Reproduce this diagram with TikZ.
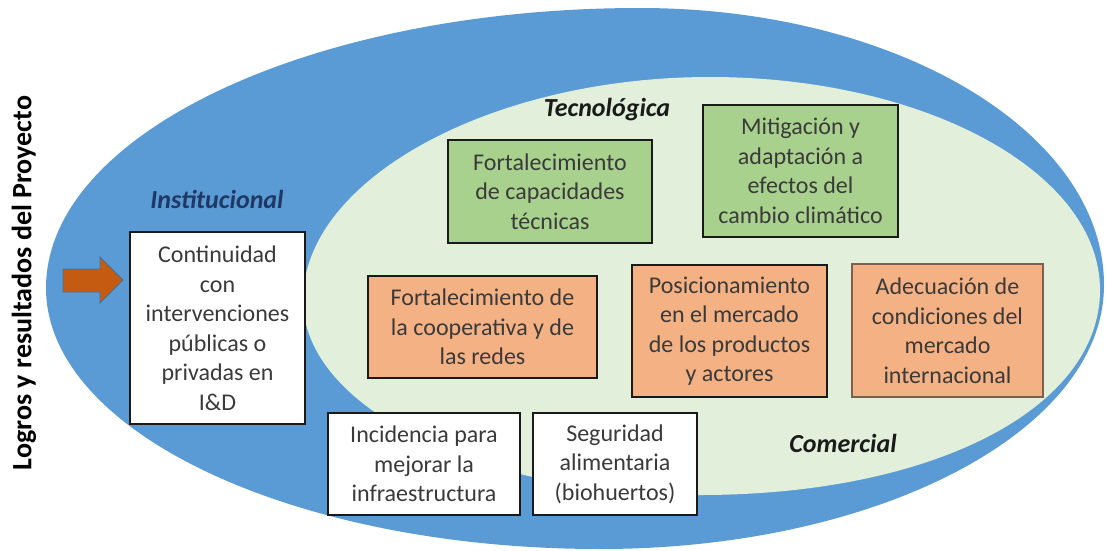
\documentclass[tikz,border=0pt]{standalone}
\usepackage{fontspec}
\setmainfont{Carlito}
\definecolor{outerblue}{HTML}{5B9BD5}
\definecolor{innergreen}{HTML}{E2EFDA}
\definecolor{boxgreen}{HTML}{A9D18E}
\definecolor{boxorange}{HTML}{F4B183}
\definecolor{arroworange}{HTML}{C55A11}
\definecolor{arrowline}{HTML}{41719C}
\definecolor{txtgrey}{HTML}{3A3A3A}
\definecolor{navy}{HTML}{1F3864}
\definecolor{darkline}{HTML}{1A1A1A}
\definecolor{brownline}{HTML}{7F6050}
\begin{document}
\begin{tikzpicture}[x=1pt,y=-1pt,
  basebox/.style={rectangle, inner sep=0pt, align=center, text=txtgrey,
    font=\fontsize{24}{29.5}\selectfont},
  gbox/.style={basebox, fill=boxgreen, draw=darkline, line width=2.6pt},
  obox/.style={basebox, fill=boxorange, draw=darkline, line width=2.6pt},
  othin/.style={basebox, fill=boxorange, draw=brownline, line width=1.3pt},
  wbox/.style={basebox, fill=white, draw=darkline, line width=2.6pt},
  heading/.style={font=\fontsize{26}{30}\selectfont\bfseries\itshape}]
\useasboundingbox (0,0) rectangle (1106,550);
% outer blue shape (four quarter-ellipse arcs)
\fill[outerblue] (46,288)
  .. controls (46,133.4) and (312,8) .. (640,8)
  .. controls (896.3,8) and (1104,132) .. (1104,285)
  .. controls (1104,430.8) and (878.4,549) .. (600,549)
  .. controls (294,549) and (46,432.1) .. (46,288) -- cycle;
% inner light green shape
\fill[innergreen] (303,300)
  .. controls (303,180) and (490,77) .. (710,77)
  .. controls (925,77) and (1100,172) .. (1100,290)
  .. controls (1100,409) and (932,495) .. (700,495)
  .. controls (480,495) and (303,408) .. (303,300) -- cycle;
% vertical title
\node[rotate=90, font=\fontsize{28}{30}\selectfont\bfseries] (title) at (24,283)
  {Logros y resultados del Proyecto};
% arrow
\fill[arroworange, draw=arrowline, line width=0.8pt]
  (63,269) -- (100,269) -- (100,257) -- (123,280) -- (100,303)
  -- (100,292) -- (63,292) -- cycle;
% headings
\node[heading, text=navy] (inst) at (217,199) {Institucional};
\node[heading, text=darkline] (tecn) at (607,110) {Tecnológica};
\node[heading, text=darkline] (come) at (843,443) {Comercial};
% boxes
\node[wbox, minimum width=175pt, minimum height=192pt] (cont) at (217.5,328)
  {Continuidad\\con\\intervenciones\\públicas o\\privadas en\\I\&D};
\node[gbox, minimum width=204pt, minimum height=103pt] (g1) at (550,191.5)
  {Fortalecimiento\\de capacidades\\técnicas};
\node[gbox, minimum width=195pt, minimum height=132pt] (g2) at (800.5,171)
  {Mitigación y\\adaptación a\\efectos del\\cambio climático};
\node[obox, minimum width=229pt, minimum height=102pt] (o1) at (482.5,327)
  {Fortalecimiento de\\la cooperativa y de\\las redes};
\node[obox, minimum width=195pt, minimum height=132pt] (o2) at (729.5,331)
  {Posicionamiento\\en el mercado\\de los productos\\y actores};
\node[othin, minimum width=191pt, minimum height=133pt] (o3) at (947.5,330.5)
  {Adecuación de\\condiciones del\\mercado\\internacional};
\node[wbox, minimum width=192pt, minimum height=102pt] (w1) at (424,464)
  {Incidencia para\\mejorar la\\infraestructura};
\node[wbox, minimum width=164pt, minimum height=102pt] (w2) at (615,464)
  {Seguridad\\alimentaria\\(biohuertos)};
\end{tikzpicture}
\end{document}
